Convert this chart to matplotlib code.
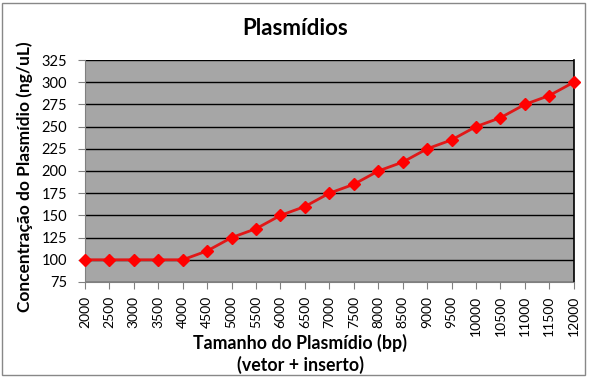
import matplotlib
matplotlib.use("Agg")
import matplotlib.pyplot as plt
from matplotlib.patches import Rectangle

# dados
tamanho = [2000, 2500, 3000, 3500, 4000, 4500, 5000, 5500, 6000, 6500, 7000,
           7500, 8000, 8500, 9000, 9500, 10000, 10500, 11000, 11500, 12000]
concentracao = [100, 100, 100, 100, 100, 110, 125, 135, 150, 160, 175,
                185, 200, 210, 225, 235, 250, 260, 275, 285, 300]
y_ticks = list(range(75, 326, 25))

plt.rcParams['font.family'] = ['Lato', 'DejaVu Sans']

fig = plt.figure(figsize=(5.91, 3.80), dpi=100, facecolor='w')
ax = fig.add_axes([0.1438, 0.258, 0.827, 0.584])
ax.set_facecolor('#a6a6a6')

ax.plot(tamanho, concentracao, color='#e01818', lw=2, marker='D',
        markersize=6, markerfacecolor='#ff0000', markeredgecolor='#ff0000',
        clip_on=False, zorder=3)

ax.set_xlim(tamanho[0], tamanho[-1])
ax.set_ylim(75, 325)
ax.set_xticks(tamanho)
ax.set_xticklabels([str(t) for t in tamanho], rotation=90, fontsize=10)
ax.set_yticks(y_ticks)
ax.set_yticklabels([str(v) for v in y_ticks], fontsize=10.5)
ax.yaxis.grid(True, color='black', lw=1)
ax.set_axisbelow(True)
ax.tick_params(axis='x', direction='out', length=5, color='#808080', pad=5)
ax.tick_params(axis='y', direction='out', length=5, color='#808080', pad=8)

ax.spines['top'].set_visible(False)
ax.spines['right'].set_color('black')
ax.spines['right'].set_linewidth(1.2)
ax.spines['bottom'].set_color('#808080')
ax.spines['left'].set_color('#808080')

fig.text(0.5, 0.926, 'Plasmídios', ha='center', va='center',
         fontsize=16, fontweight='bold')
fig.text(0.042, 0.535, 'Concentração do Plasmídio (ng/uL)', rotation=90,
         ha='center', va='center', fontsize=12.5, fontweight='bold')
fig.text(0.508, 0.097, 'Tamanho do Plasmídio (bp)', ha='center',
         va='center', fontsize=12.8, fontweight='bold')
fig.text(0.508, 0.039, '(vetor + inserto)', ha='center', va='center',
         fontsize=12.8, fontweight='bold')

# moldura do gráfico
fig.patches.append(Rectangle((0.004, 0.013), 0.986, 0.98,
                             transform=fig.transFigure, fill=False,
                             edgecolor='#888888', lw=1))

fig.savefig('out.png', dpi=100)
